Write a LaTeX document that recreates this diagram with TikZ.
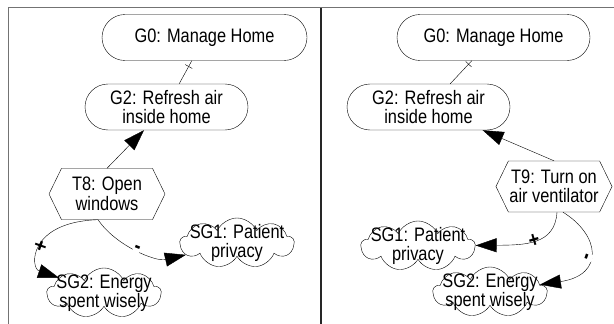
\documentclass[tikz,border=0pt]{standalone}
\usepackage{fontspec}
\setmainfont{Liberation Sans}[FakeStretch=0.84]
\usepackage{tikz}
\usetikzlibrary{arrows.meta, shapes.misc, shapes.symbols, decorations.markings}

\begin{document}
\begin{tikzpicture}[x=1pt, y=-1pt]
    % Setup the styles for goals, tasks and softgoals
        \tikzset{goal/.style={draw, rounded rectangle,
                              minimum height=46pt,
                              font=\fontsize{19.5}{19.5}\selectfont,
                              align=center, inner sep=0pt},
                 task/.style={draw, signal, signal to=west and east,
                              signal pointer angle=128,
                              minimum width=116pt, minimum height=51pt,
                              font=\fontsize{19.5}{19.5}\selectfont,
                              align=center, inner sep=1pt},
                 softgoal/.style={draw, cloud, cloud puffs=9,
                                  cloud puff arc=130, cloud ignores aspect,
                                  minimum width=114pt, minimum height=50pt,
                                  inner sep=0pt},
                 softtext/.style={font=\fontsize{19.5}{19.5}\selectfont,
                                  align=center, inner sep=0pt},
                 tick/.style={decoration={markings,
                              mark=at position #1 with {\draw (0,-4pt) -- (0,4pt);}},
                              postaction=decorate},
                 sign/.style={sloped, font=\fontsize{22}{22}\bfseries,
                              inner sep=0.5pt},
                 link/.style={-{Triangle[length=21pt, width=14pt]}}}
        \useasboundingbox (0,0) rectangle (614,324);
        % Frame
        \draw[line width=1.6pt, black!55] (8.5,324) -- (8.5,7.5) -- (614,7.5);
        \draw[line width=1.4pt, black!85] (321,7.5) -- (321,324);
        % Left panel
        \node[goal, minimum width=205pt] at (204.5,37.5) (g0l) {G0: Manage Home};
        \node[goal, minimum width=163pt] at (166.5,107) (g2l) {G2: Refresh air\\inside home};
        \node[task] at (107,194) (t8) {T8: Open\\windows};
        \node[softgoal, label={[softtext]center:{SG1: Patient\\privacy}}] at (237,243) (sg1l) {};
        \node[softgoal, label={[softtext]center:{SG2: Energy\\spent wisely}}] at (104,293) (sg2l) {};
        % Right panel
        \node[goal, minimum width=193pt] at (493.5,37.5) (g0r) {G0: Manage Home};
        \node[goal, minimum width=163pt] at (428.5,107) (g2r) {G2: Refresh air\\inside home};
        \node[task] at (554,186.5) (t9) {T9: Turn on\\air ventilator};
        \node[softgoal, label={[softtext]center:{SG1: Patient\\privacy}}] at (418,246) (sg1r) {};
        \node[softgoal, label={[softtext]center:{SG2: Energy\\spent wisely}}] at (490,292) (sg2r) {};
        % Connect the nodes
        \draw[tick=.25] (g0l) -- (g2l);
        \draw[link] (t8.north) -- (g2l);
        \draw[link] ([xshift=-9pt]t8.south) .. controls (115,245) and (155,262) .. (sg1l)
            node[sign, fill=white, pos=.5] {-};
        \draw[link] ([xshift=-9pt]t8.south) .. controls (28,222) and (30,268) .. (sg2l)
            node[sign, pos=.5] {+};
        \draw[tick=.15] (g0r) -- (g2r);
        \draw[link] (t9.north) -- (g2r);
        \draw[link] ([xshift=3pt]t9.south) .. controls (555,245) and (525,245) .. (sg1r)
            node[sign, pos=.5] {+};
        \draw[link] ([xshift=9pt]t9.south) .. controls (600,235) and (605,275) .. (sg2r)
            node[sign, fill=white, pos=.55] {-};
\end{tikzpicture}
\end{document}
